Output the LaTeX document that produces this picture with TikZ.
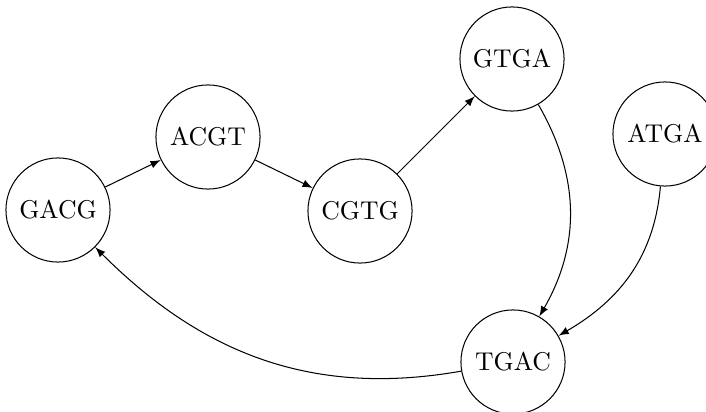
\documentclass[tikz,border=0pt]{standalone}
\usetikzlibrary{arrows}
\begin{document}
\begin{tikzpicture}[x=0.389pt,y=-0.389pt,
  kmer/.style={circle,draw,minimum size=40.5pt,inner sep=0pt},
  link/.style={-latex}]
\useasboundingbox (0,0) rectangle (706,412);
\node[kmer] (gacg) at (58,210) {GACG};
\node[kmer] (acgt) at (208,137) {ACGT};
\node[kmer] (cgtg) at (360,211) {CGTG};
\node[kmer] (gtga) at (512,59) {GTGA};
\node[kmer] (atga) at (665,134) {ATGA};
\node[kmer] (tgac) at (513,362) {TGAC};
\draw[link] (gacg) -- (acgt);
\draw[link] (acgt) -- (cgtg);
\draw[link] (cgtg) -- (gtga);
\draw[link] (gtga) to[out=-60,in=60] (tgac);
\draw[link] (atga) to[out=-95,in=30] (tgac);
\draw[link] (tgac) to[out=190,in=-45] (gacg);
\end{tikzpicture}
\end{document}
